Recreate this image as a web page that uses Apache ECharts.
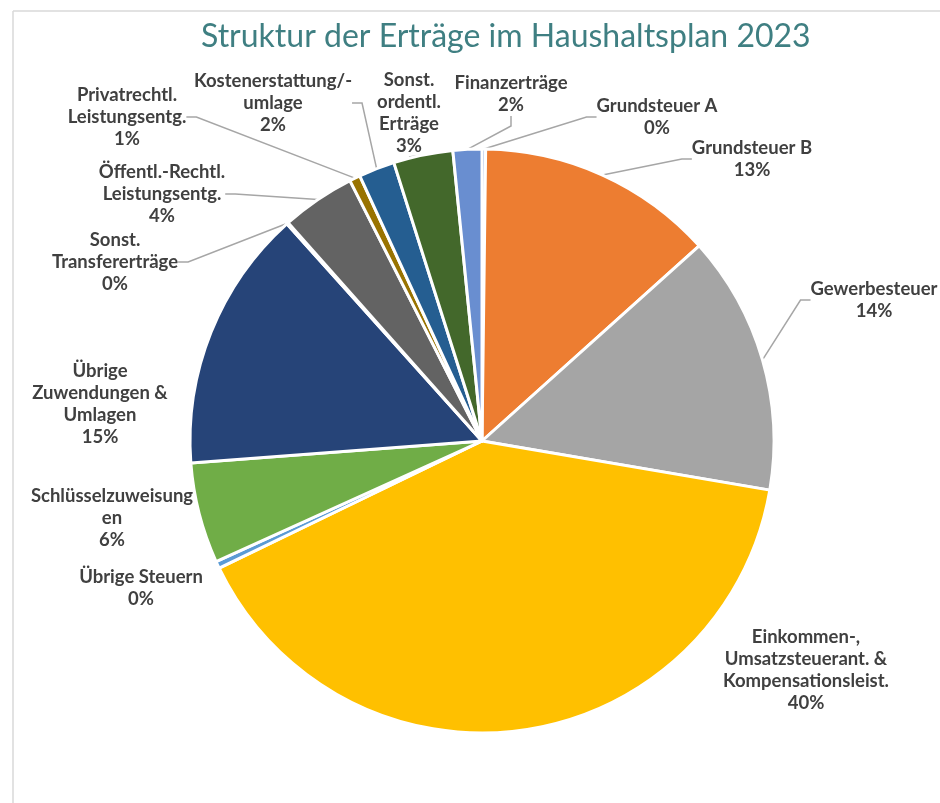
<!DOCTYPE html>
<html>
<head>
<meta charset="utf-8">
<title>Struktur der Erträge im Haushaltsplan 2023</title>
<script src="https://cdn.jsdelivr.net/npm/echarts@6/dist/echarts.min.js"></script>
<style>
  html, body { margin: 0; padding: 0; background: #fff; }
  #chart { width: 940px; height: 803px; }
</style>
</head>
<body>
<div id="chart"></div>
<script>
// Kategorien (Reihenfolge im Uhrzeigersinn ab 12 Uhr)
var categories = [
  'Grundsteuer A',
  'Grundsteuer B',
  'Gewerbesteuer',
  'Einkommen-,\nUmsatzsteuerant. &\nKompensationsleist.',
  'Übrige Steuern',
  'Schlüsselzuweisung\nen',
  'Übrige\nZuwendungen &\nUmlagen',
  'Sonst.\nTransfererträge',
  'Öffentl.-Rechtl.\nLeistungsentg.',
  'Privatrechtl.\nLeistungsentg.',
  'Kostenerstattung/-\numlage',
  'Sonst.\nordentl.\nErträge',
  'Finanzerträge'
];
// Anteile in %
var shares = [0.2, 13.2, 14.4, 40.3, 0.4, 5.6, 14.6, 0.1, 4.1, 0.6, 2.0, 3.3, 1.6];
var colors = ['#4472C4', '#ED7D31', '#A5A5A5', '#FFC000', '#5B9BD5', '#70AD47',
              '#264478', '#9E480E', '#636363', '#997300', '#255E91', '#43682B', '#698ED0'];

// Lage der Beschriftungen (Mittelpunkt des Textblocks)
var labelPos = [
  [657, 117], [752, 159], [874, 300], [806, 670], [141, 588], [112, 518], [100, 404],
  [115, 262], [162, 194], [127, 117], [273, 103], [409, 113], [511, 94]
];

var chart = echarts.init(document.getElementById('chart'));

var option = {
  backgroundColor: '#fff',
  animation: false,
  title: {
    text: 'Struktur der Erträge im Haushaltsplan 2023',
    left: 196,
    top: 16,
    textStyle: { fontFamily: 'Lato', fontWeight: 'normal', fontSize: 32, color: '#3F7F82' }
  },
  graphic: [
    { type: 'line', shape: { x1: 13, y1: 11, x2: 940, y2: 11 }, style: { stroke: '#D9D9D9', lineWidth: 1.5 } },
    { type: 'line', shape: { x1: 13, y1: 11, x2: 13, y2: 803 }, style: { stroke: '#D9D9D9', lineWidth: 1.5 } }
  ],
  series: [{
    type: 'pie',
    center: [482, 441],
    radius: ['0%', 292],
    startAngle: 90,
    clockwise: true,
    avoidLabelOverlap: false,
    itemStyle: { borderColor: '#fff', borderWidth: 3 },
    label: {
      show: true,
      position: 'outside',
      fontFamily: 'Lato',
      fontWeight: 'bold',
      fontSize: 18.5,
      lineHeight: 22,
      color: '#404040',
      align: 'center',
      formatter: function (p) { return p.name + '\n' + Math.round(p.percent) + '%'; }
    },
    labelLine: {
      show: true,
      length: 10,
      length2: 10,
      lineStyle: { color: '#A6A6A6', width: 1.5 }
    },
    labelLayout: function (params) {
      var pos = labelPos[params.dataIndex];
      return {
        x: pos[0],
        y: pos[1],
        align: 'center',
        verticalAlign: 'middle'
      };
    },
    data: categories.map(function (c, i) {
      var item = { name: c, value: shares[i], itemStyle: { color: colors[i] } };
      // Einkommen, Übrige Steuern, Schlüsselzuw. und Übrige Zuwendungen ohne Linie
      if ([3, 4, 5, 6].indexOf(i) >= 0) item.labelLine = { show: false };
      return item;
    })
  }]
};

chart.setOption(option);
</script>
</body>
</html>
